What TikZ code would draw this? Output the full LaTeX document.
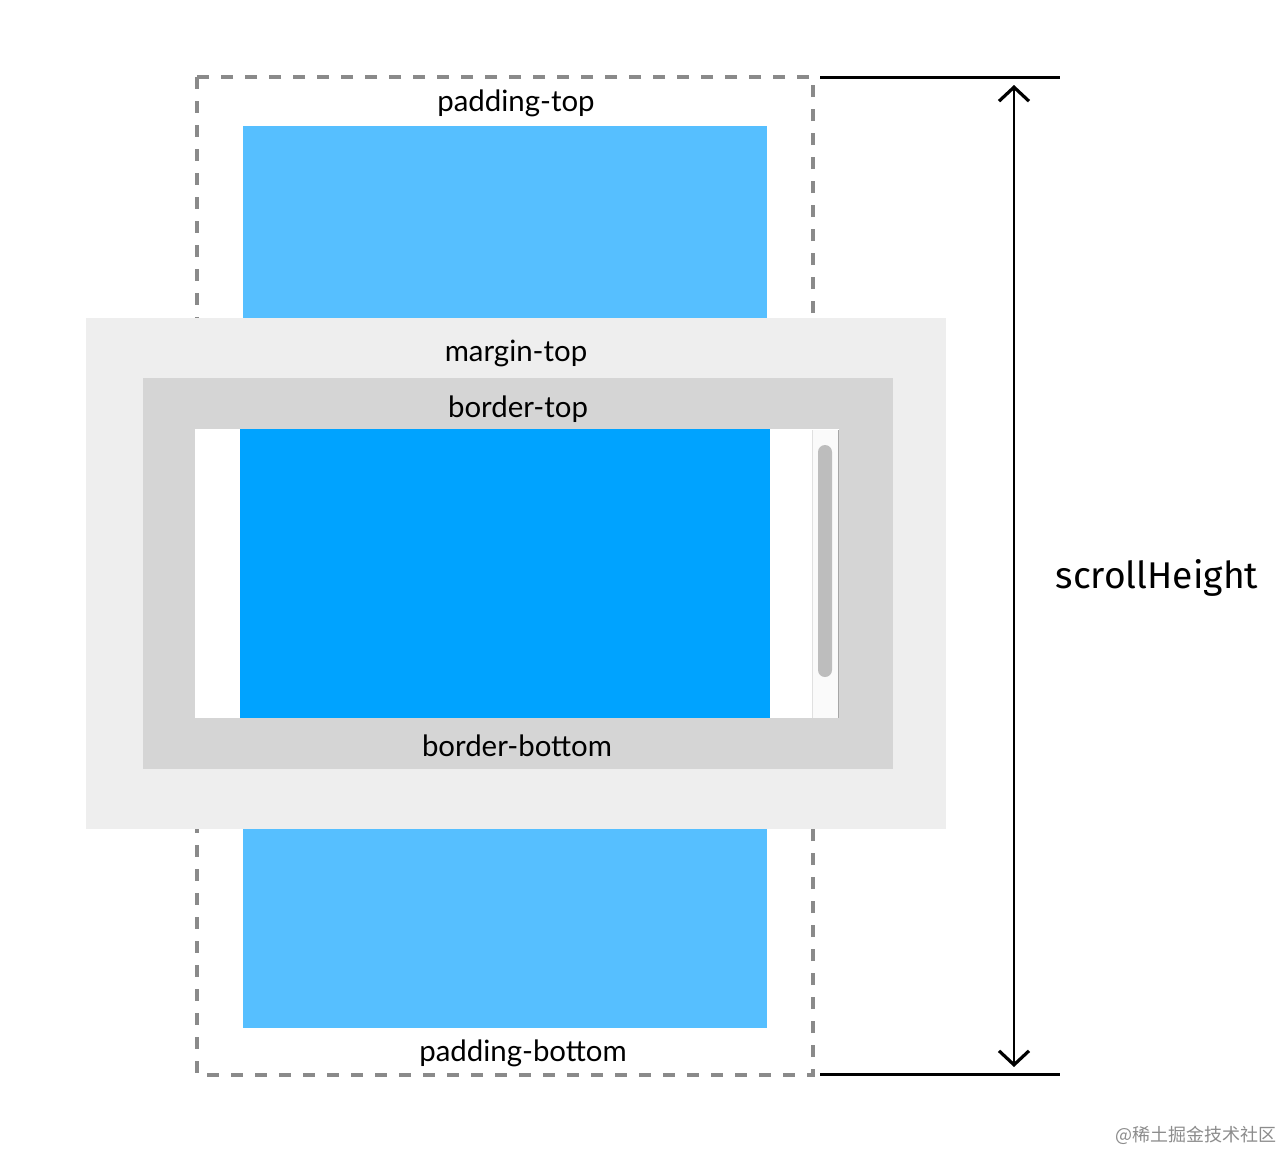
\documentclass[tikz,border=0pt]{standalone}
\usepackage{fontspec}
\setmainfont{Lato}
\newfontfamily\handfont{Fira Sans}
\newfontfamily\cjkfont{Noto Sans CJK SC}
\usetikzlibrary{arrows.meta}

\definecolor{padblue}{HTML}{56BFFF}
\definecolor{contentblue}{HTML}{00A3FF}
\definecolor{marginfill}{HTML}{EEEEEE}
\definecolor{borderfill}{HTML}{D5D5D5}
\definecolor{thumbgray}{HTML}{BDBDBD}
\definecolor{dashgray}{HTML}{8A8A8A}

\tikzset{
  boxlabel/.style={font=\fontsize{14.7}{16}\selectfont, text=black, inner sep=0pt},
  dashedframe/.style={draw=dashgray, line width=2pt, dash pattern=on 6pt off 6pt},
  markline/.style={line width=1.5pt, black},
}

\begin{document}
\begin{tikzpicture}[x=0.5pt, y=-0.5pt]
  \useasboundingbox (0,0) rectangle (1282,1152);
  \fill[white] (0,0) rectangle (1282,1152);

  % ----- Scroll area (padding box) -----
  \draw[dashedframe] (197,77) rectangle (813,1075);
  \fill[padblue] (243,126) rectangle (767,318);
  \fill[padblue] (243,829) rectangle (767,1028);
  \node[boxlabel] (padtop) at (516,103) {padding-top};
  \node[boxlabel] (padbottom) at (523,1053) {padding-bottom};

  % ----- Visible element -----
  \fill[marginfill] (86,318) rectangle (946,829);
  \fill[borderfill] (143,378) rectangle (893,769);
  \fill[white] (195,429) rectangle (839,718);
  \fill[contentblue] (240,429) rectangle (770,718);
  \node[boxlabel] (margintop) at (516,353) {margin-top};
  \node[boxlabel] (bordertop) at (518,409) {border-top};
  \node[boxlabel] (borderbottom) at (517,746) {border-bottom};

  % Scrollbar
  \fill[black!2] (812,430) rectangle (838,718);
  \draw[black!12, line width=0.5pt] (812,430) -- (812,718);
  \draw[black!35, line width=0.5pt] (838,430) -- (838,718);
  \fill[thumbgray, rounded corners=3.5pt] (818,445) rectangle (832,677);

  % ----- scrollHeight measure -----
  \draw[markline] (820,77) -- (1060,77);
  \draw[markline] (820,1074) -- (1060,1074);
  \coordinate (arrowtop) at (1014,85);
  \coordinate (arrowbottom) at (1014,1067);
  \draw[line width=1pt, {Straight Barb[length=7pt, width=15pt, line width=1.6pt]}-{Straight Barb[length=7pt, width=15pt, line width=1.6pt]}]
    (arrowtop) -- (arrowbottom);
  \node[font=\handfont\fontsize{18.6}{20}\selectfont] (scrolllabel) at (1157,578) {scrollHeight};

  % Watermark
  \node[font=\cjkfont\fontsize{9}{10}\selectfont, text=black!45] (mark) at (1196,1135) {@稀土掘金技术社区};
\end{tikzpicture}
\end{document}
